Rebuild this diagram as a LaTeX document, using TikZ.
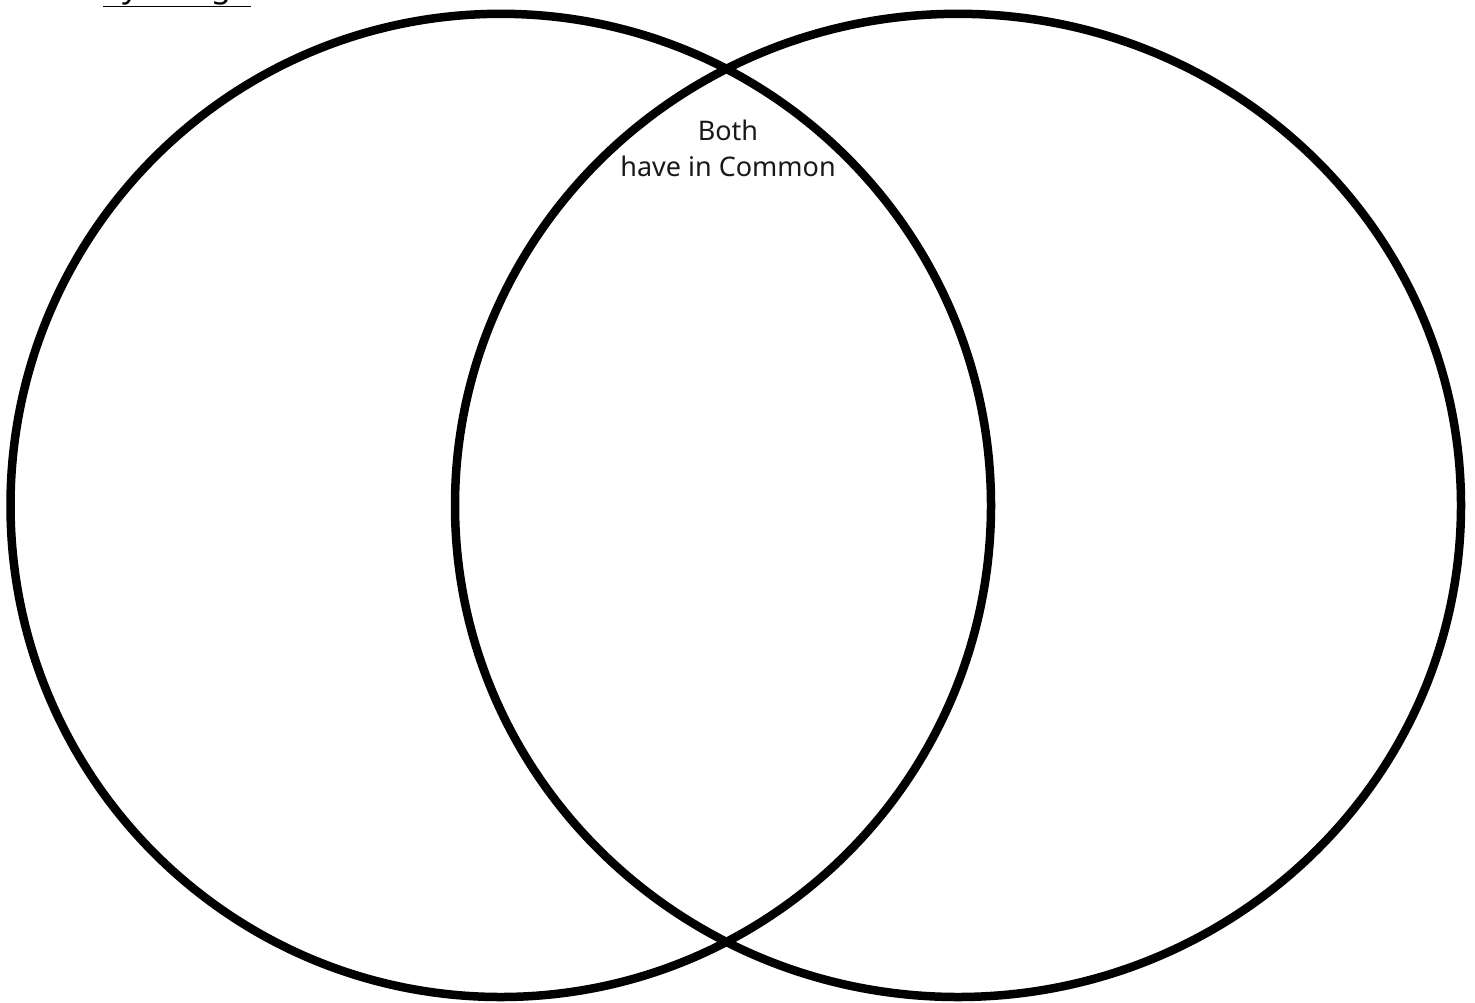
\documentclass[tikz,border=0pt]{standalone}
\usepackage{fontspec}
\setmainfont{Noto Sans}
\begin{document}
\begin{tikzpicture}[x=1pt,y=-1pt,
  ring/.style={draw=black,line width=8.5pt},
  lbl/.style={font=\fontsize{27}{36}\selectfont,align=center,text=black!90,inner sep=0pt}]
\useasboundingbox (0,0) rectangle (1475,1002);
\clip (0,0) rectangle (1475,1002);
\fill[white] (0,0) rectangle (1475,1002);
\draw[ring] (500.75,505.4) ellipse [x radius=490.25pt, y radius=491.6pt];
\draw[ring] (958,505.4) ellipse [x radius=503pt, y radius=491.6pt];
\node[lbl] (both) at (728,148) {Both\\have in Common};
\node[font=\fontsize{32}{38}\selectfont,inner sep=0pt,anchor=base west] (title) at (103,-3) {\underline{by Design}};
\end{tikzpicture}
\end{document}
